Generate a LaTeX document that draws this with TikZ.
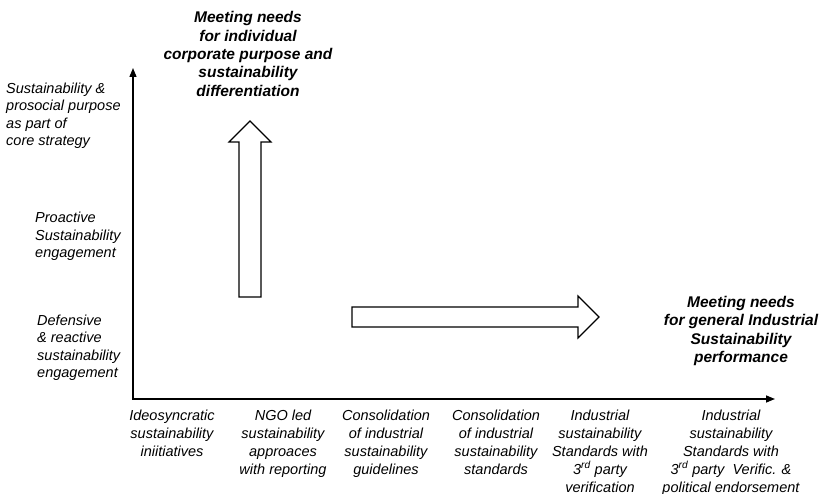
\documentclass[tikz,border=0pt]{standalone}
\usepackage{fontspec}
\setmainfont{Liberation Sans}
\usetikzlibrary{arrows.meta}

\tikzset{
  axis/.style={line width=1.4pt, {Triangle[length=9pt,width=7pt]}-{Triangle[length=9pt,width=7pt]}},
  blockarr/.style={draw, line width=1.2pt, fill=white, line join=miter},
  lvllbl/.style={anchor=west, align=left, inner sep=0pt,
    font=\fontsize{14.5}{17.5}\selectfont\itshape},
  stagelbl/.style={anchor=north, align=center, inner sep=0pt,
    font=\fontsize{14.5}{18}\selectfont\itshape},
  needlbl/.style={align=center, inner sep=0pt,
    font=\fontsize{15.5}{18.3}\selectfont\bfseries\itshape},
}

\begin{document}
\begin{tikzpicture}[x=1pt, y=-1pt]
  \useasboundingbox (0,0) rectangle (825,494);
  % axes
  \coordinate (origin) at (133,399);
  \coordinate (ytop) at (133,68);
  \coordinate (xend) at (775,399);
  \draw[axis] (ytop) -- (origin) -- (xend);
  % block arrows
  \draw[blockarr] (239,297) -- (239,142) -- (229,142) -- (250,121)
    -- (271,142) -- (261,142) -- (261,297) -- cycle;
  \draw[blockarr] (352,307) -- (578,307) -- (578,296) -- (599,317)
    -- (578,338) -- (578,327) -- (352,327) -- cycle;
  % levels on the vertical axis
  \node[lvllbl] (lvlcore) at (6,116)
    {Sustainability \&\\prosocial purpose\\as part of\\core strategy};
  \node[lvllbl] (lvlpro) at (35,236.5)
    {Proactive\\Sustainability\\engagement};
  \node[lvllbl] (lvldef) at (37,348)
    {Defensive\\\& reactive\\sustainability\\engagement};
  % needs
  \node[needlbl] (needind) at (248,54)
    {Meeting needs\\for individual\\corporate purpose and\\sustainability\\differentiation};
  \node[needlbl] (needgen) at (741,331)
    {Meeting needs\\for general Industrial\\Sustainability\\performance};
  % stages on the horizontal axis
  \foreach \x/\txt [count=\i] in {
      172/{Ideosyncratic\\sustainability\\iniitiatives},
      283/{NGO led\\sustainability\\approaces\\with reporting},
      386/{Consolidation\\of industrial\\sustainability\\guidelines},
      496/{Consolidation\\of industrial\\sustainability\\standards},
      600/{Industrial\\sustainability\\Standards with\\3\textsuperscript{rd} party\\verification},
      731/{Industrial\\sustainability\\Standards with\\3\textsuperscript{rd} party\ \ Verific. \&\\political endorsement}}{
    \node[stagelbl] (stage\i) at (\x,409.5) {\txt};
  }
\end{tikzpicture}
\end{document}
